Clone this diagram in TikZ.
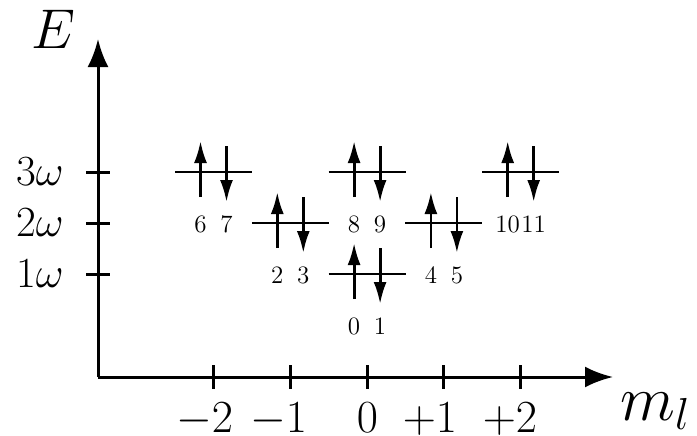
\RequirePackage{fix-cm}
\documentclass[tikz,border=0pt]{standalone}
\usetikzlibrary{calc,arrows.meta}
\tikzset{
  axisline/.style={line width=1.5pt},
  axisarrow/.style={line width=1.5pt,-{Latex[length=14pt,width=10.5pt]}},
  levelline/.style={line width=1.4pt},
  spin/.style={line width=1.4pt,-{Latex[length=11pt,width=6.5pt]}},
  elab/.style={anchor=base,inner sep=0pt,font=\fontsize{12.5}{15}\selectfont},
  ylab/.style={anchor=east,inner sep=0pt,font=\fontsize{21.5}{25}\selectfont},
  xlab/.style={anchor=base,inner sep=0pt,font=\fontsize{23}{27}\selectfont},
}
\begin{document}
\begin{tikzpicture}[x=0.5pt,y=-0.5pt]
\useasboundingbox (0,0) rectangle (697,435);
% axes
\coordinate (O) at (98,377);
\coordinate (Etop) at (98,39);
\coordinate (Xend) at (613,377);
\draw[axisarrow] (O) -- (Etop);
\draw[axisarrow] (O) -- (Xend);
\node[anchor=base,inner sep=0pt,font=\fontsize{28}{33}\selectfont] (Elab) at (53,48) {$E$};
\node[anchor=base west,inner sep=0pt,font=\fontsize{32}{38}\selectfont] (mlab) at (620,420) {$m_l$};
% y ticks
\foreach \y/\t/\nm in {172/3/y3,223/2/y2,274/1/y1}{
  \coordinate (\nm) at (98,\y);
  \draw[axisline] ($(\nm)+(-12,0)$) -- ($(\nm)+(12,0)$);
  \node[ylab] (l\nm) at ($(\nm)+(-34,0)$) {$\t\omega$};
}
% x ticks
\foreach \x/\lx/\t/\nm in {213.5/204.5/-2/xa,290.3/278.5/-1/xb,367.1/367.5/0/xc,443.9/430/+1/xd,520.7/510/+2/xe}{
  \coordinate (\nm) at (\x,377);
  \draw[axisline] ($(\nm)+(0,-12)$) -- ($(\nm)+(0,12)$);
  \node[xlab] (l\nm) at (\lx,432) {$\t$};
}
% levels with electron pairs
\foreach \c/\y/\a/\b/\n in {213.5/172/6/7/A,290.3/223/2/3/B,367.1/172/8/9/C,367.1/274/0/1/D,443.9/223/4/5/G,520.7/172/10/11/F}{
  \coordinate (lv\n) at (\c,\y);
  \draw[levelline] ($(lv\n)+(-38.5,0)$) -- ($(lv\n)+(38.5,0)$);
  \draw[spin] ($(lv\n)+(-13,25)$) -- ($(lv\n)+(-13,-31)$);
  \draw[spin] ($(lv\n)+(13,-26)$) -- ($(lv\n)+(13,30)$);
  \node[elab] (e\a) at ($(lv\n)+(-13,60)$) {\a};
  \node[elab] (e\b) at ($(lv\n)+(13,60)$) {\b};
}
\end{tikzpicture}
\end{document}
